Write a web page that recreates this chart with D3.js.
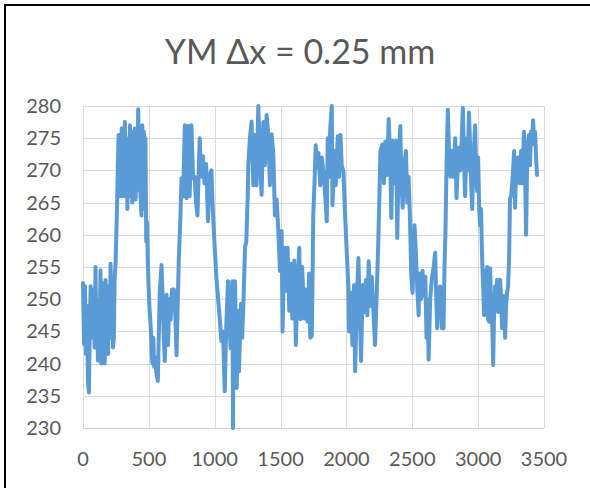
<!DOCTYPE html>
<html>
<head>
<meta charset="utf-8">
<script src="https://cdn.jsdelivr.net/npm/d3@7"></script>
<style>
  body { margin: 0; background: #fff; }
  svg { display: block; font-family: Lato, "Open Sans", sans-serif; }
</style>
</head>
<body>
<div id="chart"></div>
<script>
// Chart text
var chartTitle = "YM \u0394x = 0.25 mm";

// Axis ticks
var xTicks = [0, 500, 1000, 1500, 2000, 2500, 3000, 3500];
var yTicks = [230, 235, 240, 245, 250, 255, 260, 265, 270, 275, 280];

// YM series, [position, value] (turning points)
var ym = [
    [0,252.5],[8,243],[15,252],[22,241.5],[30,249],[38,237],[45,235.5],[52,246],[58,252],[64,244],
    [70,251.5],[76,244.5],[82,251],[88,242.5],[95,255],[101,245],[107,250],[113,240.5],[120,249],[126,244],
    [133,254.5],[139,240],[146,251],[152,244],[159,252.5],[165,240],[171,253],[178,246],[184,252],[191,241.5],
    [197,249],[203,244],[209,255.5],[215,249],[221,251],[228,242.5],[234,244],
    [240,253],[248,256],[254,261],[258,264],[262,268],[266,272],[270,275.5],
    [276,266],[282,273],[288,267],[294,276.5],[300,266],[306,273],[312,268],[318,277.5],[324,266],[330,275],
    [337,264],[343,272],[349,267.5],[356,277],[362,266],[368,274],[374,265],[381,276],[387,268],[394,276.5],
    [400,265.5],[406,274],[413,268],[419,279.5],[425,267],[431,274],[437,266],[444,263],[450,277],[456,268],
    [462,276],[468,264],[474,275],[480,259],
    [486,262],[492,256],[498,252],[504,249],[510,247],[516,245],[522,241],[528,240],[534,244],[540,239.5],
    [546,241],[558,238.4],[568,237.3],[583,251.3],[596,255.3],[605,250],[613,244],[621,240.4],[634,250.7],[646,242.9],
    [655,250],[665,246.8],[676,251.5],[690,251.5],[700,248],[710,241.3],[722,251.8],[727,256],[740,263],[748,268.8],
    [760,266],[773,277],[786,265.7],[798,276.9],[810,266],[823,277],[836,268.8],[848,269],[858,265],[869,263],
    [886,275],[895,269],[911,272.2],[922,268],[935,271],[949,262.1],[960,269],[975,270],[985,264],[1000,258],
    [1013,253.3],[1025,250.2],[1038,247],[1051,243.5],[1063,245],[1076,235.7],[1088,246],[1101,252.8],[1111,246],[1121,242.4],
    [1134,252.8],[1139,230],[1142,248.2],[1154,252.8],[1167,236.2],[1180,248.2],[1184,238.8],[1199,249.3],[1208,244],[1217,248.7],
    [1230,258],[1240,259],[1250,265.7],[1255,270.8],[1267,275],[1280,277.6],[1293,267.7],[1305,275.5],[1318,267.7],[1331,280],
    [1343,272.5],[1356,266.2],[1369,277.5],[1381,270.8],[1394,278.6],[1407,275.5],[1419,267.7],[1432,275.6],[1445,272.5],[1457,263],
    [1470,265.5],[1483,260.6],[1495,254.4],[1508,260.6],[1515,245],[1528,258],[1540,251.3],[1553,258],[1566,248.2],[1578,255.5],
    [1589,247],[1604,256],[1616,242.9],[1629,252.2],[1642,258],[1652,246.9],[1664,255],[1680,247],[1689,251.5],[1705,246.5],
    [1717,254],[1725,244],[1737,244.3],[1742,252],[1748,263],[1758,268.3],[1767,273.9],[1775,270.5],[1788,272.7],[1801,267.7],
    [1813,272],[1826,269.7],[1839,266],[1851,262.1],[1858,275],[1869,269],[1877,276.6],[1889,280],[1894,264.6],[1909,273],
    [1919,267.7],[1934,275.3],[1944,269],[1955,275.5],[1964,270.8],[1977,269.9],[1990,263],[2002,257.5],[2015,251.8],[2020,245],
    [2036,251],[2045,242.9],[2058,252.2],[2066,238.8],[2079,250],[2091,256.4],[2104,246],[2111,240.4],[2124,252.2],[2136,248],
    [2147,253],[2159,247.5],[2169,255.9],[2180,249],[2192,253.5],[2205,248],[2217,242.9],[2230,251],[2242,259],[2250,265.7],
    [2258,273],[2273,274],[2285,268],[2295,274.5],[2308,269.3],[2321,278],[2333,271],[2341,262.6],[2351,274.6],[2366,268],
    [2377,274.6],[2386,259.5],[2396,271],[2409,276.9],[2417,268],[2427,264.2],[2439,271],[2452,273],[2462,265],[2472,269],
    [2483,262.1],[2492,253.8],[2502,251],[2517,261.5],[2528,257],[2538,251.5],[2548,247.5],[2555,254],[2566,250],[2578,254.4],
    [2588,250.5],[2599,253.5],[2608,244],[2616,250],[2624,240.6],[2636,250],[2649,253.3],[2662,255],[2674,257.2],[2682,250],
    [2689,245.5],[2699,251],[2712,252],[2725,245.5],[2737,245.5],[2745,255.3],[2752,260.6],[2760,270.8],[2770,279.4],[2780,272],
    [2790,269],[2801,273],[2813,269],[2826,275],[2836,265.7],[2851,273.5],[2864,270],[2876,275],[2884,279.7],[2892,272],
    [2901,266],[2912,275],[2920,270],[2930,279],[2939,274],[2947,268],[2955,264],[2965,272],[2977,277],[2985,270],
    [2992,266.8],[3000,272],[3008,264],[3015,261.5],[3022,264],[3030,256.4],[3038,252],[3045,247.5],[3053,254.4],[3060,249],
    [3068,255],[3075,247],[3083,246.5],[3091,254.8],[3100,248],[3107,246],[3114,239.8],[3121,248],[3129,252],[3137,249],
    [3144,253],[3152,248],[3160,252],[3167,253],[3175,250],[3182,245.5],[3190,249],[3197,250.5],[3205,244],[3212,249],
    [3220,251],[3227,252],[3235,256.4],[3242,265.7],[3250,266],[3258,267.8],[3265,270],[3273,273],[3280,264.2],[3288,270],
    [3296,268],[3303,272],[3311,270.8],[3318,268],[3326,273],[3333,268],[3341,272],[3348,276],[3356,270],[3364,260],
    [3371,270],[3378,274],[3386,275.5],[3394,270.8],[3401,276],[3409,274],[3417,277.8],[3424,275],[3432,276],[3440,272],
    [3447,269.3]
];

var width = 590, height = 488;
var plot = {left: 83, right: 544, top: 106, bottom: 428};

var svg = d3.select("#chart")
    .append("svg")
    .attr("width", width)
    .attr("height", height);

// outer frame (only top and left edges are in view)
svg.append("rect")
    .attr("x", 5).attr("y", 5)
    .attr("width", 700).attr("height", 600)
    .attr("fill", "none")
    .attr("stroke", "#000")
    .attr("stroke-width", 2);

var x = d3.scaleLinear().domain([0, 3500]).range([plot.left, plot.right]);
var y = d3.scaleLinear().domain([230, 280]).range([plot.bottom, plot.top]);

// gridlines
svg.append("g").selectAll("line")
    .data(yTicks)
    .join("line")
    .attr("x1", plot.left).attr("x2", plot.right)
    .attr("y1", function(d) { return Math.round(y(d)) + 0.5; })
    .attr("y2", function(d) { return Math.round(y(d)) + 0.5; })
    .attr("stroke", "#d9d9d9")
    .attr("stroke-width", 1);

svg.append("g").selectAll("line")
    .data(xTicks)
    .join("line")
    .attr("x1", function(d) { return Math.round(x(d)) + 0.5; })
    .attr("x2", function(d) { return Math.round(x(d)) + 0.5; })
    .attr("y1", plot.top).attr("y2", plot.bottom)
    .attr("stroke", "#d9d9d9")
    .attr("stroke-width", 1);

// axis line at the bottom
svg.append("line")
    .attr("x1", plot.left).attr("x2", plot.right)
    .attr("y1", plot.bottom + 0.5).attr("y2", plot.bottom + 0.5)
    .attr("stroke", "#d0d0d0");

// tick labels
svg.append("g").selectAll("text")
    .data(yTicks)
    .join("text")
    .attr("x", 61)
    .attr("y", function(d) { return y(d); })
    .attr("dy", "0.35em")
    .attr("text-anchor", "end")
    .attr("font-size", 20)
    .attr("fill", "#595959")
    .text(function(d) { return d; });

svg.append("g").selectAll("text")
    .data(xTicks)
    .join("text")
    .attr("x", function(d) { return x(d); })
    .attr("y", 459)
    .attr("dy", "0.35em")
    .attr("text-anchor", "middle")
    .attr("font-size", 20)
    .attr("fill", "#595959")
    .text(function(d) { return d; });

// title
svg.append("text")
    .attr("x", 300)
    .attr("y", 64)
    .attr("text-anchor", "middle")
    .attr("font-size", 34)
    .attr("fill", "#595959")
    .text(chartTitle);

// the series
var line = d3.line()
    .x(function(d) { return x(d[0]); })
    .y(function(d) { return y(d[1]); });

svg.append("path")
    .datum(ym)
    .attr("d", line)
    .attr("fill", "none")
    .attr("stroke", "#5b9bd5")
    .attr("stroke-width", 4)
    .attr("stroke-linejoin", "round")
    .attr("stroke-linecap", "round");
</script>
</body>
</html>
